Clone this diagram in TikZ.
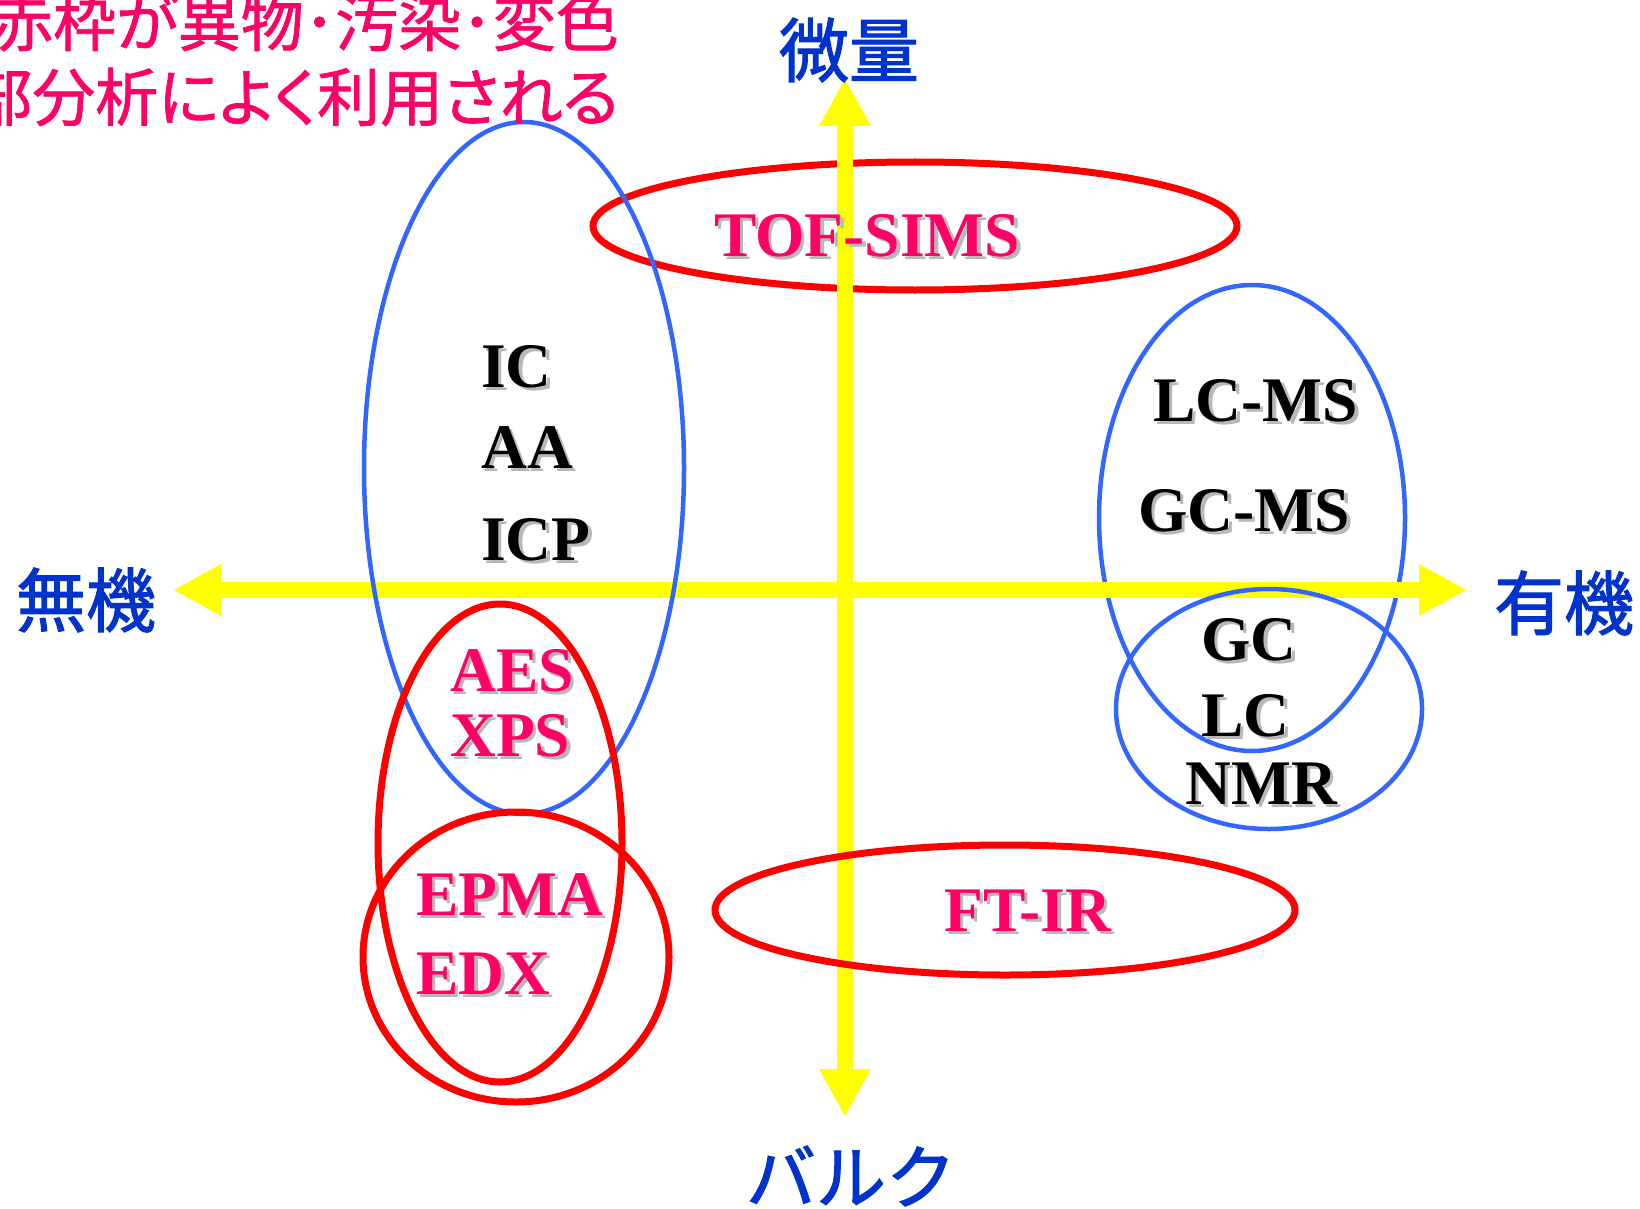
\documentclass[tikz,border=0pt]{standalone}
\usepackage{fontspec}
\setmainfont{Liberation Serif}
\newfontfamily\jp[FakeBold=1.6]{Noto Sans CJK JP}
\newfontfamily\jpp[RawFeature=+palt,FakeBold=1.2]{Noto Sans CJK JP}
\usetikzlibrary{arrows.meta}
\definecolor{axisyellow}{HTML}{FFFF00}
\definecolor{ringred}{HTML}{FF0000}
\definecolor{ringblue}{HTML}{3366FF}
\definecolor{labmagenta}{HTML}{FF0066}
\definecolor{axisblue}{HTML}{0033CC}
\definecolor{shadowgray}{HTML}{B8B8B8}
\newcommand\shlab[4]{%
  \node[methodlab,text=shadowgray,xshift=3.5pt,yshift=-3.5pt] at (#2) {#3};
  \node[methodlab,text=#4] (#1) at (#2) {#3};}
\begin{document}
\begin{tikzpicture}[x=1pt,y=-1pt,
  redring/.style={draw=ringred,line width=7pt},
  bluering/.style={draw=ringblue,line width=4.5pt},
  axisline/.style={draw=axisyellow,line width=16pt,
    {Triangle[length=48pt,width=48pt]}-{Triangle[length=48pt,width=48pt]}},
  methodlab/.style={anchor=base west,inner sep=0pt,font=\fontsize{63.5}{63.5}\selectfont\bfseries},
  axislab/.style={anchor=center,inner sep=0pt,text=axisblue,font=\jp\fontsize{70}{70}\selectfont},
  notelab/.style={anchor=east,inner sep=0pt,text=labmagenta,font=\jpp\fontsize{63}{63}\selectfont}
]
\useasboundingbox (0,0) rectangle (1640,1209);

% rings below the axes
\draw[redring] (915,226) ellipse [x radius=322pt, y radius=64pt];
\draw[bluering] (1252,518) ellipse [x radius=153pt, y radius=233pt];

% axes
\coordinate (ytop) at (845,78);
\coordinate (ybot) at (845,1117);
\coordinate (xleft) at (173,590);
\coordinate (xright) at (1467,590);
\draw[axisline] (ybot) -- (ytop);
\draw[axisline] (xleft) -- (xright);

% rings above the axes
\draw[bluering] (524,468) ellipse [x radius=160pt, y radius=346pt];
\draw[bluering] (1269,709) ellipse [x radius=153pt, y radius=120pt];
\draw[redring] (1005,910) ellipse [x radius=290pt, y radius=65pt];
\draw[redring] (500,843) ellipse [x radius=122pt, y radius=239pt];
\draw[redring] (516,957) ellipse [x radius=153pt, y radius=145pt];

% axis labels
\node[axislab] (micro) at (849,50) {微量};
\node[axislab] (inorg) at (86,600) {無機};
\node[axislab] (org) at (1564,603) {有機};
\node[axislab] (bulk) at (851,1176) {バルク};

% note (cut off at the left edge, as in the original)
\node[notelab] (note1) at (619,22) {赤枠が異物･汚染･変色};
\node[notelab] (note2) at (619,97) {部分析によく利用される};

% method labels
\shlab{tof}{714,256}{TOF-SIMS}{labmagenta}
\shlab{ic}{481,387}{IC}{black}
\shlab{aa}{481,468}{AA}{black}
\shlab{icp}{481,560}{ICP}{black}
\shlab{lcms}{1153,421}{LC-MS}{black}
\shlab{gcms}{1138,531}{GC-MS}{black}
\shlab{gc}{1201,660}{GC}{black}
\shlab{lc}{1201,736}{LC}{black}
\shlab{nmr}{1185,804}{NMR}{black}
\shlab{aes}{450,691}{AES}{labmagenta}
\shlab{xps}{450,756}{XPS}{labmagenta}
\shlab{epma}{416,915}{EPMA}{labmagenta}
\shlab{edx}{416,994}{EDX}{labmagenta}
\shlab{ftir}{944,931}{FT-IR}{labmagenta}
\end{tikzpicture}
\end{document}
